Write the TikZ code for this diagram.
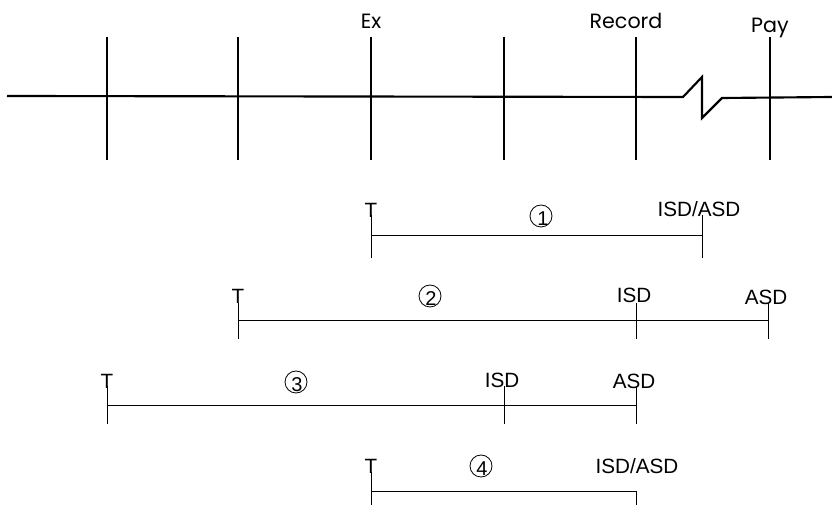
\documentclass[tikz,border=0pt]{standalone}
\usepackage{fontspec}
\setmainfont{Liberation Sans}
\newfontfamily\gothic{Poppins}
\begin{document}
\begin{tikzpicture}[x=0.75pt,y=-0.75pt,
  mainline/.style={line width=1.6pt,black},
  tickline/.style={line width=1.1pt,black},
  thinline/.style={line width=0.7pt,black},
  toplabel/.style={font=\gothic\fontsize{15.5}{17}\selectfont,inner sep=0pt},
  lab/.style={font=\fontsize{15.5}{17}\selectfont,inner sep=0pt},
  circ/.style={draw,circle,line width=0.6pt,inner sep=0pt,minimum size=16.5pt},
  digit/.style={inner sep=0pt,font=\fontsize{15}{17}\selectfont}]
\useasboundingbox (0,0) rectangle (832,505);
% main timeline
\coordinate (m0) at (7,96);
\coordinate (z0) at (683,97);
\coordinate (z1) at (702,77);
\coordinate (z2) at (702,118);
\coordinate (z3) at (722,98);
\coordinate (m1) at (832,97);
\draw[mainline] (m0) -- (z0) -- (z1) -- (z2) -- (z3) -- (m1);
\foreach \n/\x in {a/107,b/238,c/371,d/504,e/636,f/770}{
  \coordinate (\n t) at (\x,37);
  \coordinate (\n b) at (\x,160);
  \draw[tickline] (\n t) -- (\n b);
}
\node[toplabel] (ex) at (371,21) {Ex};
\node[toplabel] (rec) at (626,21) {Record};
\node[toplabel] (pay) at (770,28) {Pay};
% timeline 1
\coordinate (p1s) at (371,235);
\coordinate (p1e) at (702,235);
\draw[thinline] (p1s) -- (p1e);
\draw[thinline] ([yshift=-17]p1s) -- ([yshift=15]p1s);
\draw[thinline] ([yshift=-17]p1e) -- ([yshift=15]p1e);
\node[lab] (t1) at (371,210) {T};
\node[circ] (c1) at (541,216) {};
\node[digit] (d1) at (543,219) {1};
\node[lab] (i1) at (699,209) {ISD/ASD};
% timeline 2
\coordinate (p2s) at (238,320);
\coordinate (p2m) at (636,320);
\coordinate (p2e) at (768,320);
\draw[thinline] (p2s) -- (p2e);
\foreach \p in {p2s,p2m,p2e}{\draw[thinline] ([yshift=-14]\p) -- ([yshift=13]\p);}
\node[lab] (t2) at (238,296) {T};
\node[circ] (c2) at (430,296) {};
\node[digit] (d2) at (431,299) {2};
\node[lab] (i2) at (634,295) {ISD};
\node[lab] (a2) at (766,297) {ASD};
% timeline 3
\coordinate (p3s) at (107,405);
\coordinate (p3m) at (504,405);
\coordinate (p3e) at (636,405);
\draw[thinline] (p3s) -- (p3e);
\foreach \p in {p3s,p3m,p3e}{\draw[thinline] ([yshift=-14]\p) -- ([yshift=14]\p);}
\node[lab] (t3) at (107,381) {T};
\node[circ] (c3) at (296,382) {};
\node[digit] (d3) at (297,385) {3};
\node[lab] (i3) at (502,380) {ISD};
\node[lab] (a3) at (634,381) {ASD};
% timeline 4
\coordinate (p4s) at (371,491);
\coordinate (p4e) at (636,491);
\draw[thinline] (p4s) -- (p4e);
\draw[thinline] ([yshift=-15]p4s) -- ([yshift=14]p4s);
\draw[thinline] ([yshift=-15]p4e) -- (p4e);
\node[lab] (t4) at (371,466) {T};
\node[circ] (c4) at (481,466) {};
\node[digit] (d4) at (482,469) {4};
\node[lab] (i4) at (637,466) {ISD/ASD};
\end{tikzpicture}
\end{document}
